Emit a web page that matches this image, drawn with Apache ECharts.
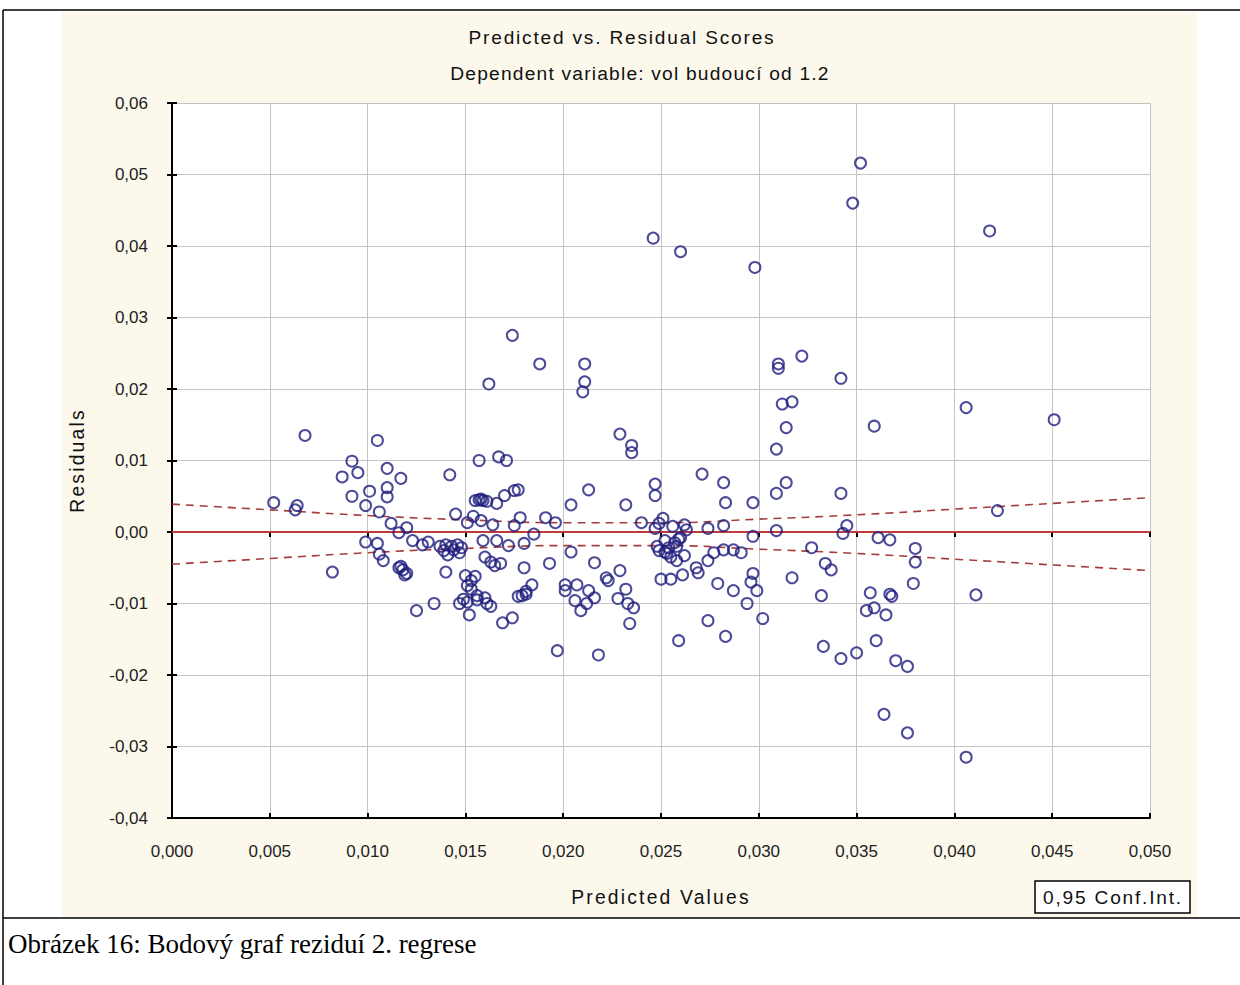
<!DOCTYPE html>
<html>
<head>
<meta charset="utf-8">
<script src="https://cdn.jsdelivr.net/npm/echarts@6/dist/echarts.min.js"></script>
<style>
  html, body { margin: 0; padding: 0; background: #ffffff; }
  #chart { width: 1240px; height: 985px; }
  /* wide tracking for the headings, axis names and legend text */
  #chart text[style*="19.1px"] { letter-spacing: 1.8px; }
  #chart text[style*="19.2px"] { letter-spacing: 1.2px; }
  #chart text[style*="19.3px"] { letter-spacing: 2.2px; }
</style>
</head>
<body>
<div id="chart"></div>
<script>
// Axis tick labels (decimal comma)
const xTickLabels = ['0,000', '0,005', '0,010', '0,015', '0,020', '0,025', '0,030', '0,035', '0,040', '0,045', '0,050'];
const yTickLabels = ['-0,04', '-0,03', '-0,02', '-0,01', '0,00', '0,01', '0,02', '0,03', '0,04', '0,05', '0,06'];

// Predicted values (x) of the observations
const predictedValues = [
  0.0052, 0.0063, 0.0064, 0.0068, 0.0082, 0.0087, 0.0092, 0.0095, 0.0092, 0.0099, 0.0099, 0.0101,
  0.0105, 0.0110, 0.0110, 0.0110, 0.0106, 0.0117, 0.0112, 0.0116, 0.0120, 0.0105, 0.0106, 0.0108, 0.0118, 0.0120, 0.0116, 0.0123, 0.0125, 0.0117, 0.0119,
  0.0128, 0.0131, 0.0134, 0.0137, 0.0139, 0.0140, 0.0141, 0.0142, 0.0143, 0.0145, 0.0146, 0.0147, 0.0148, 0.0150, 0.0149, 0.0140, 0.0144, 0.0147,
  0.0151, 0.0151, 0.0152, 0.0153, 0.0154, 0.0155, 0.0157, 0.0159, 0.0161, 0.0157, 0.0155, 0.0156, 0.0158, 0.0159, 0.0160, 0.0161, 0.0162, 0.0164,
  0.0163, 0.0165, 0.0166, 0.0167, 0.0168, 0.0169, 0.0170, 0.0171, 0.0172, 0.0174, 0.0174, 0.0158, 0.0156, 0.0160, 0.0163, 0.0153, 0.0151, 0.0166,
  0.0175, 0.0175, 0.0177, 0.0178, 0.0179, 0.0180, 0.0180, 0.0181, 0.0184, 0.0185, 0.0188, 0.0191, 0.0193, 0.0196, 0.0197, 0.0177, 0.0181,
  0.0201, 0.0201, 0.0204, 0.0204, 0.0206, 0.0207, 0.0209, 0.0210, 0.0211, 0.0211, 0.0212, 0.0213, 0.0213, 0.0216, 0.0216, 0.0218, 0.0223, 0.0228,
  0.0229, 0.0229, 0.0232, 0.0232, 0.0233, 0.0234, 0.0235, 0.0235, 0.0236, 0.0240, 0.0222, 0.0246, 0.0247, 0.0247, 0.0247, 0.0248, 0.0249, 0.0250, 0.0249,
  0.0251, 0.0252, 0.0253, 0.0254, 0.0255, 0.0256, 0.0257, 0.0258, 0.0259, 0.0259, 0.0260, 0.0261, 0.0262, 0.0263, 0.0269, 0.0268, 0.0271, 0.0274,
  0.0274, 0.0274, 0.0277, 0.0279, 0.0282, 0.0282, 0.0282, 0.0283, 0.0283, 0.0287, 0.0287, 0.0291, 0.0294, 0.0297, 0.0297, 0.0297, 0.0296, 0.0298,
  0.0299, 0.0302, 0.0252, 0.0255, 0.0258, 0.0260, 0.0262,
  0.0309, 0.0309, 0.0309, 0.0310, 0.0310, 0.0312, 0.0314, 0.0314, 0.0317, 0.0317, 0.0322, 0.0327, 0.0332, 0.0333, 0.0334, 0.0337, 0.0342, 0.0342,
  0.0342, 0.0343, 0.0345, 0.0348, 0.0350,
  0.0352, 0.0355, 0.0357, 0.0359, 0.0359, 0.0360, 0.0361, 0.0364, 0.0365, 0.0367, 0.0367, 0.0368, 0.0370, 0.0376, 0.0376, 0.0379, 0.0380, 0.0380,
  0.0406, 0.0406, 0.0411, 0.0418, 0.0422, 0.0451
];

// Residuals (y) of the same observations, in the same order
const residualValues = [
  0.0041, 0.0031, 0.0037, 0.0135, -0.0056, 0.0077, 0.0099, 0.0083, 0.0050, 0.0037, -0.0014, 0.0057,
  0.0128, 0.0089, 0.0062, 0.0049, 0.0028, 0.0075, 0.0012, -0.0001, 0.0006, -0.0016, -0.0031, -0.0040, -0.0053, -0.0058, -0.0050, -0.0012, -0.0110, -0.0048, -0.0060,
  -0.0018, -0.0014, -0.0100, -0.0020, -0.0026, -0.0056, -0.0032, 0.0080, -0.0020, 0.0025, -0.0018, -0.0100, -0.0022, -0.0061, -0.0094, -0.0018, -0.0025, -0.0029,
  -0.0098, 0.0013, -0.0116, -0.0080, 0.0022, 0.0044, 0.0045, 0.0044, 0.0043, 0.0100, -0.0062, -0.0089, 0.0016, -0.0012, -0.0035, -0.0100, 0.0207, 0.0010,
  -0.0042, -0.0047, 0.0040, 0.0105, -0.0044, -0.0127, 0.0051, 0.0100, -0.0019, 0.0275, -0.0120, 0.0046, -0.0095, -0.0092, -0.0104, -0.0068, -0.0075, -0.0012,
  0.0009, 0.0058, 0.0059, 0.0020, -0.0089, -0.0016, -0.0050, -0.0087, -0.0074, -0.0003, 0.0235, 0.0020, -0.0044, 0.0013, -0.0166, -0.0090, -0.0083,
  -0.0074, -0.0082, 0.0038, -0.0028, -0.0096, -0.0074, -0.0110, 0.0196, 0.0210, 0.0235, -0.0100, 0.0059, -0.0082, -0.0092, -0.0043, -0.0172, -0.0068, -0.0093,
  0.0137, -0.0054, 0.0038, -0.0080, -0.0100, -0.0128, 0.0121, 0.0111, -0.0106, 0.0013, -0.0064, 0.0411, 0.0067, 0.0051, 0.0005, -0.0020, -0.0026, -0.0066, 0.0012,
  0.0019, -0.0012, -0.0030, -0.0022, -0.0066, 0.0008, -0.0015, -0.0040, -0.0152, -0.0010, 0.0392, -0.0060, -0.0033, 0.0003, -0.0057, -0.0050, 0.0081, 0.0005,
  -0.0040, -0.0124, -0.0029, -0.0072, 0.0069, 0.0009, -0.0025, 0.0041, -0.0146, -0.0025, -0.0082, -0.0029, -0.0100, 0.0041, -0.0006, -0.0058, -0.0070, 0.0370,
  -0.0082, -0.0121, -0.0028, -0.0035, -0.0020, -0.0008, 0.0010,
  0.0116, 0.0054, 0.0002, 0.0235, 0.0229, 0.0179, 0.0146, 0.0069, 0.0182, -0.0064, 0.0246, -0.0022, -0.0089, -0.0160, -0.0044, -0.0053, 0.0215, 0.0054,
  -0.0177, -0.0002, 0.0009, 0.0460, -0.0169,
  0.0516, -0.0110, -0.0085, 0.0148, -0.0106, -0.0152, -0.0008, -0.0255, -0.0116, -0.0011, -0.0087, -0.0090, -0.0180, -0.0188, -0.0281, -0.0072, -0.0023, -0.0042,
  0.0174, -0.0315, -0.0088, 0.0421, 0.0030, 0.0157
];

// 0.95 confidence band around the zero-residual line
const bandX     = [0.000, 0.005, 0.010, 0.015, 0.020, 0.025, 0.030, 0.035, 0.040, 0.045, 0.050];
const bandUpper = [0.0039, 0.0031, 0.0023, 0.0017, 0.0013, 0.0013, 0.0018, 0.0024, 0.0032, 0.0040, 0.0048];
const bandLower = [-0.0045, -0.0037, -0.0029, -0.0023, -0.0019, -0.0019, -0.0024, -0.0030, -0.0038, -0.0046, -0.0054];

// Zero reference line
const zeroLineX = [0.000, 0.050];
const zeroLineY = [0, 0];

const FONT = '"Liberation Sans", Arial, sans-serif';
const pairs = (xs, ys) => xs.map((x, i) => [x, ys[i]]);

const chart = echarts.init(document.getElementById('chart'), null, { renderer: 'svg' });

const frameAxis = {
  axisLine: { show: true, lineStyle: { color: '#000', width: 2 } },
  axisTick: { show: true, inside: true, length: 5, lineStyle: { color: '#000', width: 2 } },
  axisLabel: { show: false },
  splitLine: { show: false }
};

chart.setOption({
  animation: false,
  backgroundColor: '#ffffff',
  graphic: [
    // beige panel behind the chart
    { type: 'rect', z: -10, shape: { x: 62, y: 12, width: 1135, height: 905 }, style: { fill: '#fcf8ec' } },
    // table frame lines
    { type: 'line', z: 10, shape: { x1: 3, y1: 10, x2: 1240, y2: 10 }, style: { stroke: '#000', lineWidth: 1.5 } },
    { type: 'line', z: 10, shape: { x1: 3, y1: 10, x2: 3, y2: 985 }, style: { stroke: '#000', lineWidth: 1.5 } },
    { type: 'line', z: 10, shape: { x1: 3, y1: 918, x2: 1240, y2: 918 }, style: { stroke: '#000', lineWidth: 1.5 } },
    // titles
    { type: 'text', x: 622, y: 37, style: { text: 'Predicted vs. Residual Scores', font: '19.1px ' + FONT, fill: '#111', textAlign: 'center', textVerticalAlign: 'middle', align: 'center', verticalAlign: 'middle' } },
    { type: 'text', x: 640, y: 73, style: { text: 'Dependent variable: vol budoucí od 1.2', font: '19.2px ' + FONT, fill: '#111', textAlign: 'center', textVerticalAlign: 'middle', align: 'center', verticalAlign: 'middle' } },
    // legend box
    { type: 'rect', z: 10, shape: { x: 1035, y: 881, width: 155, height: 32 }, style: { fill: '#ffffff', stroke: '#000', lineWidth: 1.5 } },
    { type: 'text', z: 11, x: 1113, y: 897, style: { text: '0,95 Conf.Int.', font: '19.1px ' + FONT, fill: '#111', textAlign: 'center', textVerticalAlign: 'middle', align: 'center', verticalAlign: 'middle' } },
    // caption
    { type: 'text', x: 8, y: 944, style: { text: 'Obrázek 16: Bodový graf reziduí 2. regrese', font: '27px "Liberation Serif", "Times New Roman", serif', fill: '#000', textAlign: 'left', textVerticalAlign: 'middle', align: 'left', verticalAlign: 'middle' } }
  ],
  grid: {
    left: 172, right: 90, top: 103, bottom: 167,
    show: true, backgroundColor: '#ffffff', borderWidth: 0
  },
  xAxis: [
    {
      type: 'value', min: 0, max: 0.05, interval: 0.005, position: 'bottom',
      name: 'Predicted Values', nameLocation: 'middle', nameGap: 70,
      nameTextStyle: { fontFamily: FONT, fontSize: 19.3, color: '#111' },
      axisLine: { show: true, onZero: false, lineStyle: { color: '#000', width: 2 } },
      axisTick: { show: true, inside: true, length: 5, lineStyle: { color: '#000', width: 2 } },
      axisLabel: { margin: 25, fontFamily: FONT, fontSize: 17, color: '#222', formatter: (v, i) => xTickLabels[i] },
      splitLine: { show: true, lineStyle: { color: '#c4c4c4', width: 1 } }
    },
    Object.assign({ type: 'value', min: 0, max: 0.05, interval: 0.005, position: 'top' }, frameAxis)
  ],
  yAxis: [
    {
      type: 'value', min: -0.04, max: 0.06, interval: 0.01, position: 'left',
      name: 'Residuals', nameLocation: 'middle', nameGap: 85, nameRotate: 90,
      nameTextStyle: { fontFamily: FONT, fontSize: 19.3, color: '#111' },
      axisLine: { show: true, onZero: false, lineStyle: { color: '#000', width: 2 } },
      axisTick: { show: true, inside: true, length: 5, lineStyle: { color: '#000', width: 2 } },
      axisLabel: { margin: 24, fontFamily: FONT, fontSize: 17, color: '#222', formatter: (v, i) => yTickLabels[i] },
      splitLine: { show: true, lineStyle: { color: '#c4c4c4', width: 1 } }
    },
    Object.assign({ type: 'value', min: -0.04, max: 0.06, interval: 0.01, position: 'right' }, frameAxis)
  ],
  series: [
    {
      name: '0,95 Conf.Int.', type: 'line', data: pairs(bandX, bandUpper), smooth: true,
      symbol: 'none', z: 3,
      lineStyle: { color: '#a83c3c', width: 1.6, type: [8, 6] }
    },
    {
      name: '0,95 Conf.Int. lower', type: 'line', data: pairs(bandX, bandLower), smooth: true,
      symbol: 'none', z: 3,
      lineStyle: { color: '#a83c3c', width: 1.6, type: [8, 6] }
    },
    {
      name: 'Zero', type: 'line', data: pairs(zeroLineX, zeroLineY),
      symbol: 'none', z: 3,
      lineStyle: { color: '#c03a3a', width: 2 }
    },
    {
      name: 'Residuals', type: 'scatter', data: pairs(predictedValues, residualValues),
      symbol: 'circle', symbolSize: 11, z: 4,
      itemStyle: { color: 'rgba(255,255,255,0)', borderColor: '#1e1e7e', borderWidth: 2 }
    }
  ]
});
</script>
</body>
</html>
